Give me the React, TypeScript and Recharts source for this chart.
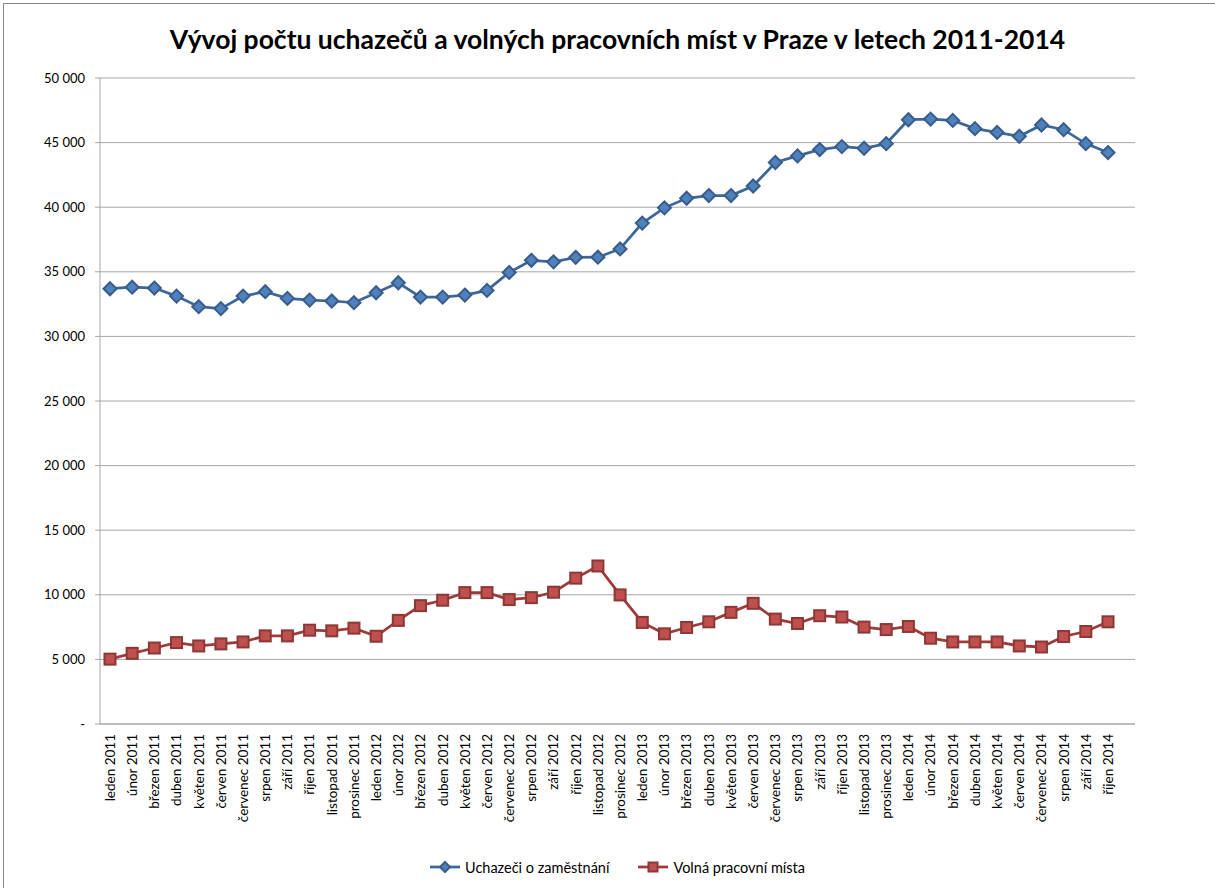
import { LineChart, Line, XAxis, YAxis, CartesianGrid } from "recharts";

const MESICE = [
  "leden 2011", "únor 2011", "březen 2011", "duben 2011", "květen 2011", "červen 2011",
  "červenec 2011", "srpen 2011", "září 2011", "říjen 2011", "listopad 2011", "prosinec 2011",
  "leden 2012", "únor 2012", "březen 2012", "duben 2012", "květen 2012", "červen 2012",
  "červenec 2012", "srpen 2012", "září 2012", "říjen 2012", "listopad 2012", "prosinec 2012",
  "leden 2013", "únor 2013", "březen 2013", "duben 2013", "květen 2013", "červen 2013",
  "červenec 2013", "srpen 2013", "září 2013", "říjen 2013", "listopad 2013", "prosinec 2013",
  "leden 2014", "únor 2014", "březen 2014", "duben 2014", "květen 2014", "červen 2014",
  "červenec 2014", "srpen 2014", "září 2014", "říjen 2014",
];

const UCHAZECI = [
  33690, 33810, 33740, 33120, 32300, 32150, 33120, 33460, 32940, 32810, 32740, 32610,
  33380, 34150, 33040, 33040, 33200, 33560, 34950, 35890, 35770, 36120, 36130, 36770,
  38770, 39950, 40690, 40900, 40900, 41640, 43460, 43970, 44460, 44690, 44560, 44920,
  46770, 46820, 46720, 46080, 45790, 45490, 46360, 46000, 44920, 44230,
];

const VOLNA = [
  5020, 5470, 5880, 6300, 6040, 6200, 6350, 6820, 6820, 7260, 7210, 7420,
  6790, 8020, 9160, 9580, 10170, 10170, 9630, 9780, 10200, 11290, 12230, 9990,
  7860, 6980, 7470, 7910, 8640, 9340, 8120, 7780, 8380, 8280, 7500, 7310,
  7550, 6640, 6350, 6350, 6350, 6040, 5960, 6770, 7160, 7910,
];

const Y_TICKS = [0, 5000, 10000, 15000, 20000, 25000, 30000, 35000, 40000, 45000, 50000];

const data = MESICE.map((m, i) => ({ mesic: m, uchazeci: UCHAZECI[i], volna: VOLNA[i] }));

const FONT = "Lato, 'Open Sans', sans-serif";
const BLUE = { line: "#3C679B", fill: "#4F81BD", edge: "#385D8A" };
const RED = { line: "#9E3B39", fill: "#C0504D", edge: "#8C3836" };

const fmt = (v: number) => (v === 0 ? "-" : String(v).replace(/\B(?=(\d{3})+(?!\d))/g, " "));

const Diamond = ({ cx, cy, size = 6.5 }: { cx?: number; cy?: number; size?: number }) => {
  if (cx == null || cy == null) return null;
  const s = size;
  return (
    <polygon
      points={`${cx},${cy - s} ${cx + s},${cy} ${cx},${cy + s} ${cx - s},${cy}`}
      fill={BLUE.fill}
      stroke={BLUE.edge}
      strokeWidth={2}
    />
  );
};

const Square = ({ cx, cy, size = 5.5 }: { cx?: number; cy?: number; size?: number }) => {
  if (cx == null || cy == null) return null;
  return (
    <rect
      x={cx - size}
      y={cy - size}
      width={size * 2}
      height={size * 2}
      fill={RED.fill}
      stroke={RED.edge}
      strokeWidth={2}
    />
  );
};

const XTick = ({ x, y, payload }: { x?: number; y?: number; payload?: { value: string } }) => (
  <text
    x={x}
    y={y}
    transform={`rotate(-90 ${x} ${y})`}
    textAnchor="end"
    dy="0.36em"
    fontSize={13.5}
    fontFamily={FONT}
    fill="#000"
  >
    {payload?.value}
  </text>
);

export default function App() {
  return (
    <div style={{ position: "absolute", left: 0, top: 0, width: 1215, height: 888, overflow: "hidden", background: "#fff" }}>
      <div style={{ position: "absolute", left: 3, top: 3, width: 1230, height: 900, borderTop: "1px solid #868686", borderLeft: "1px solid #868686" }} />
      <div
        style={{
          position: "absolute",
          left: 100,
          width: 1035,
          top: 23,
          textAlign: "center",
          fontFamily: FONT,
          fontWeight: 700,
          fontSize: 26.5,
          color: "#000",
        }}
      >
        Vývoj počtu uchazečů a volných pracovních míst v Praze v letech 2011-2014
      </div>
      <div style={{ position: "absolute", left: 0, top: 0 }}>
        <LineChart width={1215} height={888} data={data} margin={{ top: 78, right: 80, left: 0, bottom: 34 }}>
          <CartesianGrid vertical={false} stroke="#A6A6A6" />
          <XAxis
            dataKey="mesic"
            interval={0}
            height={130}
            padding={{ left: 10, right: 27 }}
            tickLine={false}
            tickSize={0}
            tickMargin={10}
            axisLine={{ stroke: "#A6A6A6" }}
            tick={<XTick />}
          />
          <YAxis
            width={100}
            domain={[0, 50000]}
            ticks={Y_TICKS}
            tickFormatter={fmt}
            tickSize={5}
            tickMargin={10}
            axisLine={{ stroke: "#A6A6A6" }}
            tickLine={{ stroke: "#A6A6A6" }}
            tick={{ fontSize: 13, fontFamily: FONT, fill: "#000" }}
            interval={0}
          />
          <Line
            dataKey="uchazeci"
            name="Uchazeči o zaměstnání"
            type="linear"
            stroke={BLUE.line}
            strokeWidth={2.75}
            dot={(p: { cx?: number; cy?: number; index?: number }) => <Diamond key={`d${p.index}`} cx={p.cx} cy={p.cy} />}
            activeDot={false}
            isAnimationActive={false}
          />
          <Line
            dataKey="volna"
            name="Volná pracovní místa"
            type="linear"
            stroke={RED.line}
            strokeWidth={2.75}
            dot={(p: { cx?: number; cy?: number; index?: number }) => <Square key={`s${p.index}`} cx={p.cx} cy={p.cy} />}
            activeDot={false}
            isAnimationActive={false}
          />
        </LineChart>
      </div>
      <div
        style={{
          position: "absolute",
          top: 858,
          left: 429,
          display: "flex",
          alignItems: "center",
          fontFamily: FONT,
          fontSize: 14.5,
          color: "#000",
          whiteSpace: "nowrap",
        }}
      >
        <svg width={32} height={18} style={{ marginRight: 4 }}>
          <line x1={1} y1={9} x2={31} y2={9} stroke={BLUE.line} strokeWidth={2.75} />
          <Diamond cx={16} cy={9} size={5} />
        </svg>
        <span style={{ marginRight: 28 }}>Uchazeči o zaměstnání</span>
        <svg width={32} height={18} style={{ marginRight: 4 }}>
          <line x1={1} y1={9} x2={31} y2={9} stroke={RED.line} strokeWidth={2.75} />
          <Square cx={16} cy={9} size={4.5} />
        </svg>
        <span>Volná pracovní místa</span>
      </div>
    </div>
  );
}
